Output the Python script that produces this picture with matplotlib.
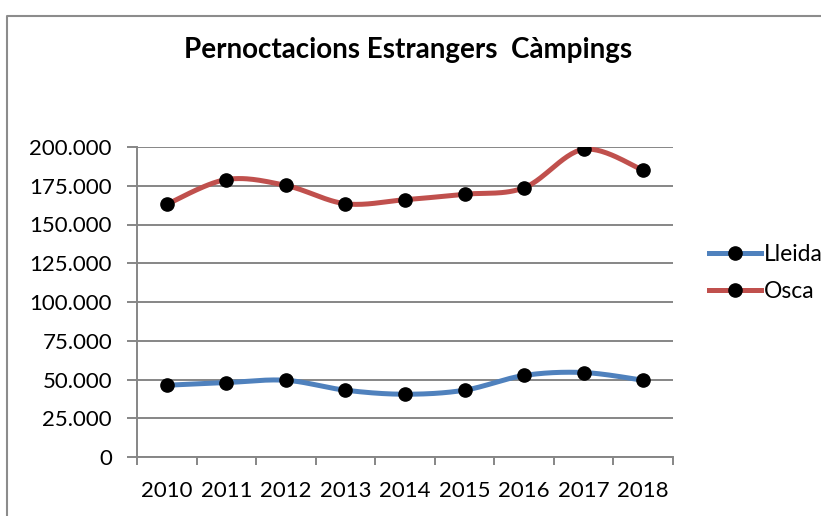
import numpy as np
import matplotlib.pyplot as plt
from matplotlib.lines import Line2D

# Dades (llegides del gràfic)
anys = ['2010', '2011', '2012', '2013', '2014', '2015', '2016', '2017', '2018']
lleida = [46300, 48000, 49500, 43100, 40500, 43100, 52600, 54500, 49500]
osca = [163000, 179000, 175200, 163400, 166000, 169500, 173700, 198500, 185000]

plt.rcParams['font.family'] = ['Lato', 'DejaVu Sans']


def suavitzat(y, n=30):
    # corba suau tipus Catmull-Rom entre els punts (com la línia suavitzada d'Excel)
    x = np.arange(len(y), dtype=float)
    y = np.asarray(y, dtype=float)
    px = np.concatenate([[x[0]], x, [x[-1]]])
    py = np.concatenate([[y[0]], y, [y[-1]]])
    xs, ys = [], []
    for i in range(1, len(px) - 2):
        p0, p1, p2, p3 = [np.array([px[j], py[j]]) for j in (i - 1, i, i + 1, i + 2)]
        c1 = p1 + (p2 - p0) / 6
        c2 = p2 - (p3 - p1) / 6
        t = np.linspace(0, 1, n)[:, None]
        b = ((1 - t) ** 3) * p1 + 3 * ((1 - t) ** 2) * t * c1 + 3 * (1 - t) * t ** 2 * c2 + t ** 3 * p2
        xs.extend(b[:, 0])
        ys.extend(b[:, 1])
    return np.array(xs), np.array(ys)


fig = plt.figure(figsize=(8.21, 5.16), dpi=100)
ax = fig.add_axes([137 / 821, 1 - 457 / 516, (673 - 137) / 821, (457 - 147) / 516])

# vora del gràfic (només es veuen el costat esquerre i el de dalt)
fig.add_artist(Line2D([7 / 821, 7 / 821, 1.0], [0.0, 1 - 15.5 / 516, 1 - 15.5 / 516],
                      transform=fig.transFigure, color='#8c8c8c', linewidth=1.5))

gris = '#868686'
x = np.arange(len(anys))
for serie, color in [(lleida, '#4F81BD'), (osca, '#C0504D')]:
    sx, sy = suavitzat(serie)
    ax.plot(sx, sy, color=color, linewidth=3.6, solid_capstyle='round', zorder=3)
    ax.plot(x, serie, 'o', color='black', markersize=9.5, zorder=4)

ax.set_xlim(-0.5, len(anys) - 0.5)
ax.set_ylim(0, 200000)
ax.set_yticks(np.arange(0, 200001, 25000))
ax.set_yticklabels(['0'] + [f'{v // 1000}.000' for v in range(25000, 200001, 25000)])
ax.yaxis.grid(True, color=gris, linewidth=1.4)
ax.set_axisbelow(True)

ax.set_xticks(np.arange(-0.5, len(anys), 1))
ax.set_xticklabels([])
ax.set_xticks(x, minor=True)
ax.set_xticklabels(anys, minor=True)
ax.tick_params(axis='x', which='major', length=6, width=1.4, color=gris, direction='out')
ax.tick_params(axis='x', which='minor', length=0, pad=17, labelsize=16)
ax.tick_params(axis='y', length=7, width=1.4, color=gris, labelsize=16, pad=11)

for s in ['top', 'right']:
    ax.spines[s].set_visible(False)
for s in ['left', 'bottom']:
    ax.spines[s].set_color(gris)
    ax.spines[s].set_linewidth(1.4)

fig.text(408 / 821, 1 - 50 / 516, 'Pernoctacions Estrangers  Càmpings',
         ha='center', va='center', fontsize=20, fontweight='bold')

handles = [Line2D([], [], color=c, linewidth=3.6, marker='o', markerfacecolor='black',
                  markeredgecolor='black', markersize=9.5)
           for c in ['#4F81BD', '#C0504D']]
fig.legend(handles, ['Lleida', 'Osca'], loc='center left',
           bbox_to_anchor=(688 / 821, 1 - 273 / 516), frameon=False,
           fontsize=16.5, handlelength=2.3, handletextpad=0.1, labelspacing=0.7)

fig.savefig('out.png', dpi=100)
